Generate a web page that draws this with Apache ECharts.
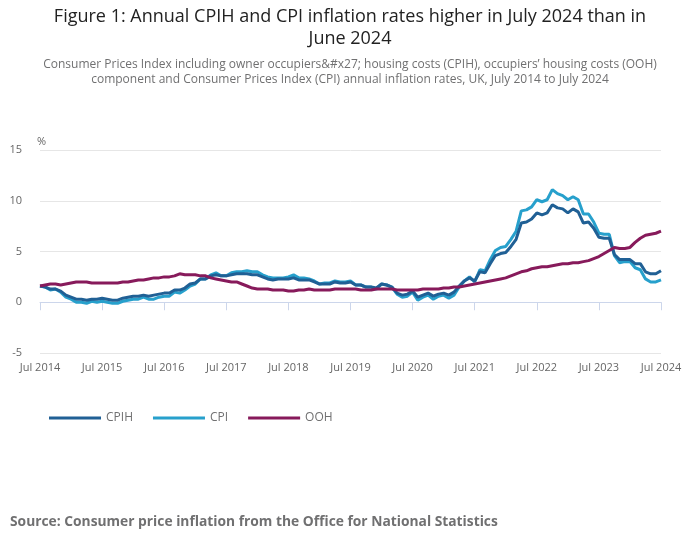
<!DOCTYPE html>
<html>
<head>
<meta charset="utf-8">
<script src="https://cdn.jsdelivr.net/npm/echarts@6/dist/echarts.min.js"></script>
<style>
html,body{margin:0;padding:0;background:#fff;}
#chart{width:700px;height:549px;}
</style>
</head>
<body>
<div id="chart"></div>
<script>
// Monthly categories, July 2014 to July 2024
var monthNames = ['Jan','Feb','Mar','Apr','May','Jun','Jul','Aug','Sep','Oct','Nov','Dec'];
var categories = [];
for (var y = 2014; y <= 2024; y++) {
  for (var m = 0; m < 12; m++) {
    if (y === 2014 && m < 6) continue;
    if (y === 2024 && m > 6) continue;
    categories.push(monthNames[m] + ' ' + y);
  }
}

var cpih = [
  1.6, 1.5, 1.3, 1.3, 1.1, 0.7,
  0.5, 0.3, 0.3, 0.2, 0.3, 0.3, 0.4, 0.3, 0.2, 0.2, 0.4, 0.5,
  0.6, 0.6, 0.7, 0.6, 0.7, 0.8, 0.9, 0.9, 1.2, 1.2, 1.4, 1.8,
  1.9, 2.3, 2.3, 2.6, 2.7, 2.6, 2.6, 2.7, 2.8, 2.8, 2.8, 2.7,
  2.7, 2.5, 2.3, 2.2, 2.3, 2.3, 2.3, 2.4, 2.2, 2.2, 2.2, 2.0,
  1.8, 1.8, 1.8, 2.0, 1.9, 1.9, 2.0, 1.7, 1.7, 1.5, 1.5, 1.4,
  1.8, 1.7, 1.5, 0.9, 0.7, 0.8, 1.1, 0.5, 0.7, 0.9, 0.6, 0.8,
  0.9, 0.7, 1.0, 1.6, 2.1, 2.4, 2.1, 3.0, 2.9, 3.8, 4.6, 4.8,
  4.9, 5.5, 6.2, 7.8, 7.9, 8.2, 8.8, 8.6, 8.8, 9.6, 9.3, 9.2,
  8.8, 9.2, 8.9, 7.8, 7.9, 7.3, 6.4, 6.3, 6.3, 4.7, 4.2, 4.2,
  4.2, 3.8, 3.8, 3.0, 2.8, 2.8, 3.1
];

var cpi = [
  1.6, 1.5, 1.2, 1.3, 1.0, 0.5,
  0.3, 0.0, 0.0, -0.1, 0.1, 0.0, 0.1, 0.0, -0.1, -0.1, 0.1, 0.2,
  0.3, 0.3, 0.5, 0.3, 0.3, 0.5, 0.6, 0.6, 1.0, 0.9, 1.2, 1.6,
  1.8, 2.3, 2.3, 2.7, 2.9, 2.6, 2.6, 2.9, 3.0, 3.0, 3.1, 3.0,
  3.0, 2.7, 2.5, 2.4, 2.4, 2.4, 2.5, 2.7, 2.4, 2.4, 2.3, 2.1,
  1.8, 1.9, 1.9, 2.1, 2.0, 2.0, 2.1, 1.7, 1.7, 1.5, 1.5, 1.3,
  1.8, 1.7, 1.5, 0.8, 0.5, 0.6, 1.0, 0.2, 0.5, 0.7, 0.3, 0.6,
  0.7, 0.4, 0.7, 1.5, 2.1, 2.5, 2.0, 3.2, 3.1, 4.2, 5.1, 5.4,
  5.5, 6.2, 7.0, 9.0, 9.1, 9.4, 10.1, 9.9, 10.1, 11.1, 10.7, 10.5,
  10.1, 10.4, 10.1, 8.7, 8.7, 7.9, 6.8, 6.7, 6.7, 4.6, 3.9, 4.0,
  4.0, 3.4, 3.2, 2.3, 2.0, 2.0, 2.2
];

var ooh = [
  1.6, 1.7, 1.8, 1.8, 1.7, 1.8,
  1.9, 2.0, 2.0, 2.0, 1.9, 1.9, 1.9, 1.9, 1.9, 1.9, 2.0, 2.0,
  2.1, 2.2, 2.2, 2.3, 2.4, 2.4, 2.5, 2.5, 2.6, 2.8, 2.7, 2.7,
  2.7, 2.6, 2.6, 2.4, 2.3, 2.2, 2.1, 2.0, 2.0, 1.8, 1.6, 1.4,
  1.3, 1.3, 1.3, 1.2, 1.2, 1.2, 1.1, 1.1, 1.2, 1.2, 1.3, 1.2,
  1.2, 1.2, 1.2, 1.3, 1.3, 1.3, 1.3, 1.3, 1.2, 1.2, 1.2, 1.3,
  1.3, 1.3, 1.3, 1.2, 1.2, 1.2, 1.2, 1.2, 1.3, 1.3, 1.3, 1.3,
  1.4, 1.4, 1.5, 1.5, 1.6, 1.7, 1.8, 1.9, 2.0, 2.1, 2.2, 2.3,
  2.4, 2.6, 2.8, 3.0, 3.1, 3.3, 3.4, 3.5, 3.5, 3.6, 3.7, 3.8,
  3.8, 3.9, 3.9, 4.0, 4.1, 4.3, 4.5, 4.8, 5.1, 5.4, 5.3, 5.3,
  5.4, 5.9, 6.3, 6.6, 6.7, 6.8, 7.0
];

var yTicks = { min: -5, max: 15, interval: 5 };

var titleLines = ['Figure 1: Annual CPIH and CPI inflation rates higher in July 2024 than in', 'June 2024'];
var subtitleLines = ['Consumer Prices Index including owner occupiers&#x27; housing costs (CPIH), occupiers\u2019 housing costs (OOH)',
                     'component and Consumer Prices Index (CPI) annual inflation rates, UK, July 2014 to July 2024'];
var sourceText = 'Source: Consumer price inflation from the Office for National Statistics';

var chart = echarts.init(document.getElementById('chart'), null, { renderer: 'canvas' });
var font = '"Open Sans", sans-serif';

function centeredText(txt, yMid, size, color, weight) {
  return {
    type: 'text',
    x: 350,
    y: yMid,
    style: { text: txt, fontFamily: font, fontSize: size, fontWeight: weight || 'normal', fill: color,
             align: 'center', verticalAlign: 'middle' }
  };
}

var graphics = [
  centeredText(titleLines[0], 17, 18, '#222222'),
  centeredText(titleLines[1], 39, 18, '#222222'),
  centeredText(subtitleLines[0], 65, 12, '#707071'),
  centeredText(subtitleLines[1], 80, 12, '#707071'),
  {
    type: 'text',
    x: 10,
    y: 522,
    style: { text: sourceText, fontFamily: font, fontSize: 13.8, fontWeight: 'bold', fill: '#707071', verticalAlign: 'middle' }
  }
];

chart.setOption({
  animation: false,
  backgroundColor: '#ffffff',
  textStyle: { fontFamily: font },
  legend: {
    left: 44,
    top: 407,
    itemWidth: 52,
    itemHeight: 3,
    itemGap: 20,
    icon: 'rect',
    textStyle: { fontFamily: font, fontSize: 12, color: '#707071' },
    data: ['CPIH', 'CPI', 'OOH']
  },
  graphic: graphics,
  grid: { left: 40, right: 39, top: 150, bottom: 196, containLabel: false },
  xAxis: {
    type: 'category',
    data: categories,
    boundaryGap: false,
    axisLine: { lineStyle: { color: '#ccd6eb', width: 1 } },
    axisTick: { interval: 11, length: 8, lineStyle: { color: '#ccd6eb' } },
    axisLabel: { interval: 11, color: '#666666', fontSize: 11, fontFamily: font, margin: 9 },
    splitLine: { show: false }
  },
  yAxis: {
    type: 'value',
    min: yTicks.min,
    max: yTicks.max,
    interval: yTicks.interval,
    name: '%',
    nameLocation: 'end',
    nameGap: 3,
    nameTextStyle: { color: '#666666', fontSize: 11, fontFamily: font, align: 'left', padding: [0, 0, 0, -3] },
    axisLine: { show: false },
    axisTick: { show: false },
    axisLabel: { color: '#666666', fontSize: 11, fontFamily: font, margin: 18 },
    splitLine: { lineStyle: { color: '#e6e6e6', width: 1 } }
  },
  series: [
    { name: 'CPIH', type: 'line', data: cpih, symbol: 'none', lineStyle: { width: 3, color: '#206095' }, itemStyle: { color: '#206095' }, z: 3 },
    { name: 'CPI', type: 'line', data: cpi, symbol: 'none', lineStyle: { width: 3, color: '#27a0cc' }, itemStyle: { color: '#27a0cc' }, z: 2 },
    { name: 'OOH', type: 'line', data: ooh, symbol: 'none', lineStyle: { width: 3, color: '#871a5b' }, itemStyle: { color: '#871a5b' }, z: 4 }
  ]
});
</script>
</body>
</html>
